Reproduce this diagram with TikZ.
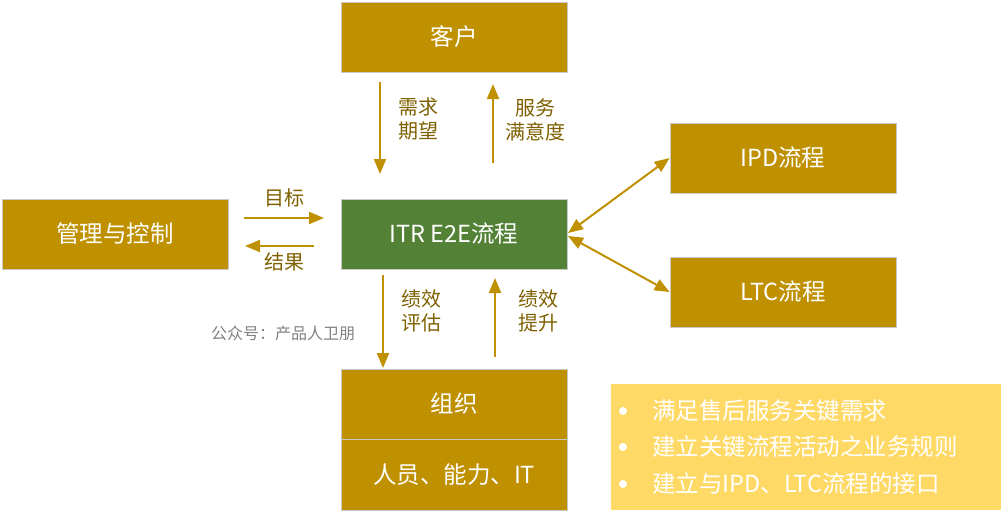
\documentclass[tikz,border=0pt]{standalone}
\usepackage{fontspec}
\setmainfont{Noto Sans CJK SC}
\usetikzlibrary{arrows.meta}
\definecolor{gold}{HTML}{BF9000}
\definecolor{dgreen}{HTML}{538135}
\definecolor{lyellow}{HTML}{FFD966}
\definecolor{lbl}{HTML}{7F6000}
\definecolor{bord}{HTML}{C8C8C8}
\tikzset{
  box/.style={draw=bord, line width=0.8pt, fill=gold, text=white, minimum width=226pt, minimum height=70pt, inner sep=0pt, font=\fontsize{23.5}{27}\selectfont},
  lab/.style={text=lbl, font=\fontsize{20}{23.5}\selectfont, align=left, inner sep=0pt},
  arr/.style={draw=gold, line width=2pt, -{Triangle[length=15pt,width=12pt]}},
  darr/.style={draw=gold, line width=2pt, {Triangle[length=15pt,width=12pt]}-{Triangle[length=15pt,width=12pt]}},
  btext/.style={text=white, font=\fontsize{23.5}{27}\selectfont, anchor=west, inner sep=0pt},
  bdot/.style={circle, fill=white, inner sep=0pt, minimum size=8pt},
}
\begin{document}
\begin{tikzpicture}[x=1pt,y=-1pt]
\useasboundingbox (0,0) rectangle (1003,512);
\node[box] (kehu) at (454,37) {客户};
\node[box] (guanli) at (115,234) {管理与控制};
\node[box, fill=dgreen] (itr) at (454,234) {ITR E2E流程};
\node[box] (ipd) at (783,158) {IPD流程};
\node[box] (ltc) at (783,292) {LTC流程};
\node[box] (zuzhi) at (454,404) {组织};
\node[box, minimum height=71pt] (renyuan) at (454,474.5) {人员、能力、IT};
% vertical arrows top
\coordinate (a1s) at (380,82); \coordinate (a1e) at (380,174);
\draw[arr] (a1s) -- (a1e);
\node[lab] (l1) at (418,119) {需求\\期望};
\coordinate (a2s) at (493,163); \coordinate (a2e) at (493,84);
\draw[arr] (a2s) -- (a2e);
\node[lab, align=center] (l2) at (535,120) {服务\\满意度};
% horizontal arrows
\coordinate (a3s) at (244,218); \coordinate (a3e) at (324,218);
\draw[arr] (a3s) -- (a3e);
\node[lab] (l3) at (284,198) {目标};
\coordinate (a4s) at (314,246); \coordinate (a4e) at (245,246);
\draw[arr] (a4s) -- (a4e);
\node[lab] (l4) at (284,262) {结果};
% vertical arrows bottom
\coordinate (a5s) at (383,275); \coordinate (a5e) at (383,368);
\draw[arr] (a5s) -- (a5e);
\node[lab] (l5) at (421,311) {绩效\\评估};
\coordinate (a6s) at (495,357); \coordinate (a6e) at (495,278);
\draw[arr] (a6s) -- (a6e);
\node[lab] (l6) at (538,311) {绩效\\提升};
% double arrows
\coordinate (ep1) at (568,233);
\coordinate (ep2) at (568,236);
\draw[darr] (ep1) -- (ipd.west);
\draw[darr] (ep2) -- (ltc.west);
% watermark
\node[text=gray, font=\fontsize{16}{18}\selectfont, inner sep=0pt] (wm) at (283,333) {公众号：产品人卫朋};
% yellow box
\node[fill=lyellow, draw=white, minimum width=391pt, minimum height=127pt, inner sep=0pt] (yb) at (805.5,446.5) {};
\node[bdot] (d1) at (623,411) {};
\node[bdot] (d2) at (623,447) {};
\node[bdot] (d3) at (623,484) {};
\node[btext] (t1) at (652,411) {满足售后服务关键需求};
\node[btext] (t2) at (652,447) {建立关键流程活动之业务规则};
\node[btext] (t3) at (652,484) {建立与IPD、LTC流程的接口};
\end{tikzpicture}
\end{document}
